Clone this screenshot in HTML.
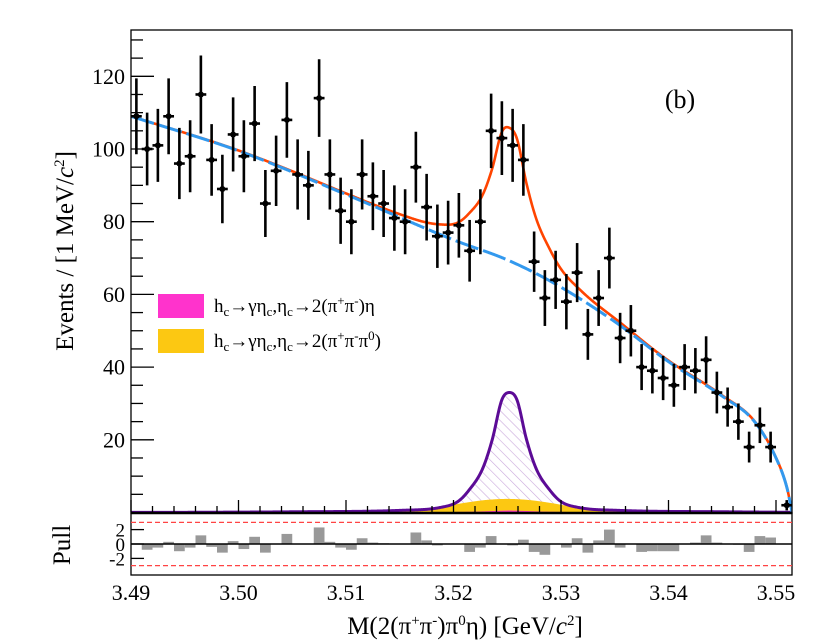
<!DOCTYPE html>
<html><head><meta charset="utf-8"><style>
html,body{margin:0;padding:0;background:#fff;}
svg{display:block;}
svg text{font-family:"Liberation Serif","Times New Roman","Noto Serif CJK SC","DejaVu Serif",serif;}
</style></head><body>
<svg id="chart" width="830" height="643" viewBox="0 0 830 643" xmlns="http://www.w3.org/2000/svg">
<defs>
<pattern id="hatch" patternUnits="userSpaceOnUse" width="7" height="7" patternTransform="rotate(-45)">
<line x1="0" y1="0" x2="0" y2="7" stroke="#c9a8dc" stroke-width="1.2"/>
</pattern>
<clipPath id="mainclip"><rect x="131" y="30" width="661" height="483"/></clipPath>
</defs>
<g id="plot"></g>
</svg>
<script>
// ---- data ----
const binCenters = [3.4905,3.4915,3.4925,3.4935,3.4945,3.4955,3.4965,3.4975,3.4985,3.4995,3.5005,3.5015,3.5025,3.5035,3.5045,3.5055,3.5065,3.5075,3.5085,3.5095,3.5105,3.5115,3.5125,3.5135,3.5145,3.5155,3.5165,3.5175,3.5185,3.5195,3.5205,3.5215,3.5225,3.5235,3.5245,3.5255,3.5265,3.5275,3.5285,3.5295,3.5305,3.5315,3.5325,3.5335,3.5345,3.5355,3.5365,3.5375,3.5385,3.5395,3.5405,3.5415,3.5425,3.5435,3.5445,3.5455,3.5465,3.5475,3.5485,3.5495,3.551];
const counts = [109,100,101,109,96,98,115,97,89,104,98,107,85,94,108,93,90,114,93,83,80,93,87,85,81,80,95,84,76,77,79,72,80,105,103,101,97,69,59,64,58,66,49,59,70,48,50,40,39,37,35,40,39,42,33,29,25,18,24,18,2];
const bkgX = [3.49,3.50,3.51,3.52,3.525,3.5294,3.535,3.54,3.545,3.548,3.55,3.551,3.5515];
const bkgY = [109,99.5,87.5,75,69.5,63,52.5,41.5,32,25,15,7,0];
const sigX = [3.49,3.4952,3.5052,3.5152,3.5188,3.5204,3.5214,3.5227,3.5236,3.5245,3.5252,3.5259,3.5268,3.5277,3.529,3.53,3.5316,3.5352,3.5452,3.5515];
const sigY = [0.02,0.05,0.2,0.6,1.4,3,6,12,20,31,33,31,20,12,6,3,1.4,0.6,0.2,0.05];
const yelX = [3.49,3.511,3.515,3.517,3.519,3.521,3.523,3.525,3.527,3.529,3.531,3.533,3.535,3.539,3.5515];
const yelY = [0,0,0.3,0.7,1.5,2.5,3.3,3.6,3.3,2.5,1.5,0.7,0.3,0,0];
const pinkX = [3.49,3.519,3.522,3.524,3.5252,3.5265,3.5285,3.532,3.5515];
const pinkY = [0,0,0.1,0.3,0.4,0.3,0.1,0,0];
const pullValues = [-0.8,-0.5,0.3,-1.0,-0.5,1.2,-0.4,-1.2,0.4,-0.7,1.0,-1.2,0.05,1.4,0.05,0.05,2.3,0.3,-0.5,-0.8,0.8,0.2,0.1,0.05,0.05,1.6,0.5,-0.2,0.05,0.05,-1.1,-0.5,1.1,0.05,-0.2,0.6,-1.1,-1.5,0.05,-0.5,0.8,-1.2,0.5,2.0,-0.5,0.05,-1.1,-1.0,-1.0,-1.0,0.05,0.2,1.2,0.2,0.05,-0.1,-1.1,1.1,0.9];
const pullStart = 3.491;
const xTicks = [3.49,3.50,3.51,3.52,3.53,3.54,3.55];
const xTickLabels = ["3.49","3.50","3.51","3.52","3.53","3.54","3.55"];
const yTicks = [20,40,60,80,100,120];
const pullTicks = [2,0,-2];
const pullTickLabels = ["2","0","-2"];

// ---- axes ----
const X0=131, XPX=10750, XMIN=3.49, XMAX=3.5515;
const sx = v => X0 + (v-XMIN)*XPX;
const Y0=512.5, YPX=3.635;
const sy = v => Y0 - v*YPX;
const PY0=544, PPX=7.2;
const spy = v => PY0 - v*PPX;

const NS="http://www.w3.org/2000/svg";
const root=document.getElementById('plot');
function mk(tag, attrs, parent){
  const e=document.createElementNS(NS,tag);
  for(const k in attrs) e.setAttribute(k,attrs[k]);
  (parent||root).appendChild(e); return e;
}
function interp(xs, ys){
  const n=xs.length, d=[], m=new Array(n);
  for(let i=0;i<n-1;i++) d.push((ys[i+1]-ys[i])/(xs[i+1]-xs[i]));
  m[0]=d[0]; m[n-1]=d[n-2];
  for(let i=1;i<n-1;i++) m[i]=(d[i-1]*d[i]<=0)?0:(d[i-1]+d[i])/2;
  for(let i=0;i<n-1;i++){ if(d[i]===0){m[i]=0;m[i+1]=0;continue;}
    const a=m[i]/d[i], b=m[i+1]/d[i], s=a*a+b*b;
    if(s>9){const t=3/Math.sqrt(s); m[i]=t*a*d[i]; m[i+1]=t*b*d[i];} }
  return x=>{
    if(x<=xs[0]) return ys[0]; if(x>=xs[n-1]) return ys[n-1];
    let i=0; while(x>xs[i+1]) i++;
    const h=xs[i+1]-xs[i], t=(x-xs[i])/h, t2=t*t, t3=t2*t;
    return (2*t3-3*t2+1)*ys[i]+(t3-2*t2+t)*h*m[i]+(-2*t3+3*t2)*ys[i+1]+(t3-t2)*h*m[i+1];
  };
}
const fB=interp(bkgX,bkgY), fS=interp(sigX,sigY), fY=interp(yelX,yelY), fP=interp(pinkX,pinkY);
const grid=[]; for(let i=0;i<=1230;i++) grid.push(XMIN+(XMAX-XMIN)*i/1230);
function pathOf(f){ return grid.map((x,i)=>(i?'L':'M')+sx(x).toFixed(2)+' '+sy(Math.max(0,f(x))).toFixed(2)).join(' '); }
function areaOf(f){ return pathOf(f)+' L'+sx(XMAX)+' '+Y0+' L'+sx(XMIN)+' '+Y0+' Z'; }

const g=mk('g',{'clip-path':'url(#mainclip)'});


let e;
e=mk('path',{d:areaOf(fS),fill:'url(#hatch)',stroke:'none'},g);


e=mk('path',{d:areaOf(fY),fill:'#fcc812',stroke:'#fcc812','stroke-width':1},g);


e=mk('path',{d:areaOf(fP),fill:'#ff33cc',stroke:'#ff33cc','stroke-width':1},g);


e=mk('path',{d:pathOf(fS),fill:'none',stroke:'#5c0b96','stroke-width':3},g);


e=mk('path',{d:pathOf(x=>fB(x)+fS(x)+fY(x)),fill:'none',stroke:'#ff4400','stroke-width':2.6},g);


e=mk('path',{d:pathOf(fB),fill:'none',stroke:'#3399ee','stroke-width':3,'stroke-dasharray':'24 5'},g);



binCenters.forEach((c,i)=>{
  const n=counts[i], er=Math.sqrt(n), px=sx(c), py=sy(n);
  const pg=mk('g',{});
  
  
  mk('line',{x1:px,x2:px,y1:sy(n+er),y2:sy(Math.max(0,n-er)),stroke:'#000','stroke-width':2.6},pg);
  mk('line',{x1:px-5.4,x2:px+5.4,y1:py,y2:py,stroke:'#000','stroke-width':2.6},pg);
  mk('circle',{cx:px,cy:py,r:3,fill:'#000'},pg);
});

e=mk('rect',{x:131,y:30,width:661,height:483,fill:'none',stroke:'#000','stroke-width':1.3});


e=mk('line',{x1:131,x2:792,y1:513,y2:513,stroke:'#000','stroke-width':2.5});


for(let k=0;k<=31;k++){
  const v=3.49+k*0.002, px=sx(v); if(px>791) break;
  const major = (k%5===0);
  mk('line',{x1:px,x2:px,y1:512,y2:major?500:506,stroke:'#000','stroke-width':1.3});
}
for(let v=5; v<=130; v+=5){
  const major=(v%20===0);
  mk('line',{x1:131,x2:major?154:143,y1:sy(v),y2:sy(v),stroke:'#000','stroke-width':1.3});
}
yTicks.forEach(v=>{
  const t=mk('text',{x:125,y:sy(v)+7.5,'text-anchor':'end','font-size':22});
  t.textContent=String(v);
  
  
});

e=mk('rect',{x:131,y:513,width:661,height:62,fill:'none',stroke:'#000','stroke-width':1.3});


pullValues.forEach((p,i)=>{
  const x1=sx(pullStart+i*0.001);
  const r=mk('rect',{x:x1,y:Math.min(spy(p),PY0),width:10.75,height:Math.abs(p)*PPX,fill:'#999999'});
  
  
});
e=mk('line',{x1:131,x2:792,y1:PY0,y2:PY0,stroke:'#000','stroke-width':1.6});


[3,-3].forEach(v=>{
  const l=mk('line',{x1:131,x2:792,y1:spy(v),y2:spy(v),stroke:'#ff4444','stroke-width':1.3,'stroke-dasharray':'5 3'});
  
  
});
pullTicks.forEach((v,i)=>{
  mk('line',{x1:131,x2:144,y1:spy(v),y2:spy(v),stroke:'#000','stroke-width':1.3});
  const t=mk('text',{x:125,y:spy(v)+7,'text-anchor':'end','font-size':19});
  t.textContent=pullTickLabels[i];
  
  
});
xTicks.forEach((v,i)=>{
  const t=mk('text',{x:sx(v),y:600,'text-anchor':'middle','font-size':22});
  t.textContent=xTickLabels[i];
  
  
});

let t=mk('text',{x:465,y:634,'text-anchor':'middle','font-size':25});
t.innerHTML='M(2(π<tspan dy="-9" font-size="15">+</tspan><tspan dy="9">π</tspan><tspan dy="-9" font-size="15">-</tspan><tspan dy="9">)π</tspan><tspan dy="-9" font-size="15">0</tspan><tspan dy="9">η) [GeV/</tspan><tspan font-style="italic">c</tspan><tspan dy="-9" font-size="15">2</tspan><tspan dy="9">]</tspan>';


t=mk('text',{x:0,y:0,'text-anchor':'middle','font-size':25,transform:'translate(73,251) rotate(-90)'});
t.innerHTML='Events / [1 MeV/<tspan font-style="italic">c</tspan><tspan dy="-9" font-size="15">2</tspan><tspan dy="9">]</tspan>';


t=mk('text',{x:0,y:0,'text-anchor':'middle','font-size':25,transform:'translate(70,545) rotate(-90)'});
t.textContent='Pull';


t=mk('text',{x:680,y:108,'text-anchor':'middle','font-size':26});
t.textContent='(b)';



const lg=mk('g',{});


const le1=mk('g',{},lg);


mk('rect',{x:158,y:294,width:46,height:24,fill:'#ff33cc'},le1);
t=mk('text',{x:214,y:312,'font-size':19},le1);
t.innerHTML='h<tspan dy="4" font-size="13">c</tspan><tspan dy="-4">→γη</tspan><tspan dy="4" font-size="13">c</tspan><tspan dy="-4">,η</tspan><tspan dy="4" font-size="13">c</tspan><tspan dy="-4">→2(π</tspan><tspan dy="-7" font-size="13">+</tspan><tspan dy="7">π</tspan><tspan dy="-7" font-size="13">-</tspan><tspan dy="7">)η</tspan>';
const le2=mk('g',{},lg);


mk('rect',{x:158,y:329,width:46,height:24,fill:'#fcc812'},le2);
t=mk('text',{x:214,y:347,'font-size':19},le2);
t.innerHTML='h<tspan dy="4" font-size="13">c</tspan><tspan dy="-4">→γη</tspan><tspan dy="4" font-size="13">c</tspan><tspan dy="-4">,η</tspan><tspan dy="4" font-size="13">c</tspan><tspan dy="-4">→2(π</tspan><tspan dy="-7" font-size="13">+</tspan><tspan dy="7">π</tspan><tspan dy="-7" font-size="13">-</tspan><tspan dy="7">π</tspan><tspan dy="-7" font-size="13">0</tspan><tspan dy="7">)</tspan>';
</script>
</body></html>
